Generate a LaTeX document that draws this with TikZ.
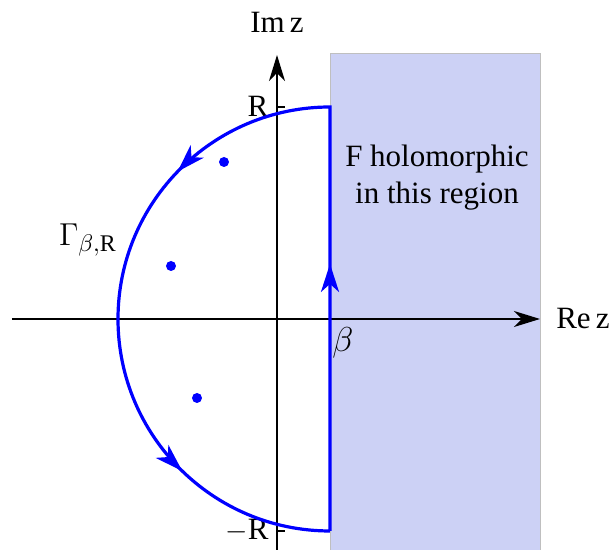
\documentclass[tikz,border=0pt]{standalone}
\usepackage{fontspec}
\setmainfont{Liberation Serif}
\usetikzlibrary{arrows.meta,decorations.markings}
\definecolor{regionfill}{RGB}{204,209,245}
\tikzset{
  axis/.style={line width=0.75pt,-{Stealth[length=13pt,width=8pt,inset=4pt]}},
  contour/.style={blue,line width=1.6pt,
    postaction={decorate,decoration={markings,
      mark=at position 0.245 with {\arrow{Stealth[length=14pt,width=9pt,inset=4pt]}},
      mark=at position 0.545 with {\arrow{Stealth[length=14pt,width=9pt,inset=4pt]}},
      mark=at position 0.85 with {\arrow{Stealth[length=14pt,width=9pt,inset=4pt]}}}}},
  pole/.style={fill=blue}
}
\begin{document}
\begin{tikzpicture}[x=50pt,y=50pt,line width=0.75pt,font=\fontsize{15.5}{18.5}\selectfont]
  \useasboundingbox (-2.77,-2.31) rectangle (3.36,3.19);
  % half-plane where F is holomorphic
  \fill[regionfill] (0.53,-2.31) rectangle (2.63,2.66);
  \draw[gray!50,line width=0.4pt] (0.53,-2.31) -- (0.53,2.66) -- (2.63,2.66) -- (2.63,-2.31);
  % axes
  \draw[axis] (-2.65,0) -- (2.63,0);
  \draw[axis] (0,-2.31) -- (0,2.64);
  \node (rez) at (3.06,0) {Re\,z};
  \node (imz) at (0,2.97) {Im\,z};
  \draw (0,2.12) -- (0.08,2.12);
  \draw (0,-2.12) -- (0.08,-2.12);
  \node (rtop) at (-0.19,2.13) {R};
  \node (rbot) at (-0.3,-2.12) {$-$R};
  % contour
  \draw[contour] (0.53,-2.12) -- (0.53,2.12) arc[start angle=90,end angle=270,radius=2.12];
  \fill[pole] (-0.53,1.57) circle (2.5pt);
  \fill[pole] (-1.06,0.53) circle (2.5pt);
  \fill[pole] (-0.8,-0.79) circle (2.5pt);
  \node[scale=1.2] (beta) at (0.66,-0.24) {$\beta$};
  \node[scale=1.1] (gamma) at (-1.89,0.79) {$\Gamma_{\beta,\mathrm{R}}$};
  \node[align=center] (region) at (1.6,1.41) {F holomorphic\\in this region};
\end{tikzpicture}
\end{document}
